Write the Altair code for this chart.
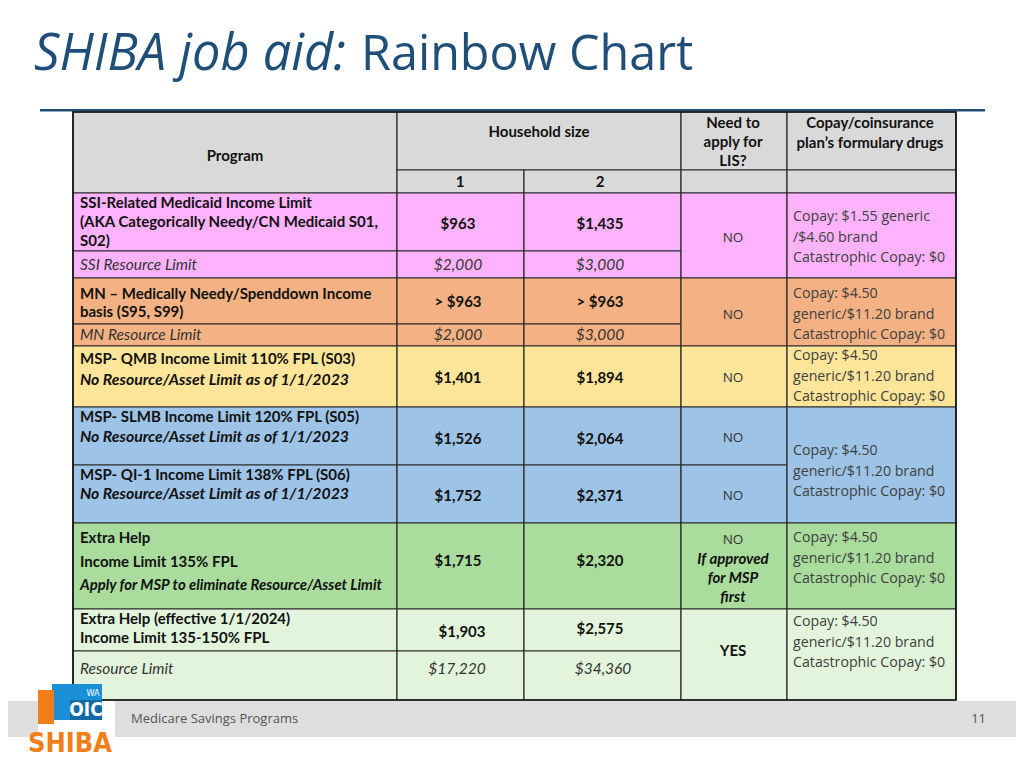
import altair as alt
import pandas as pd

# ---------------- layout arrays (page pixels) ----------------
col_edges = [73, 397, 524, 681, 787, 956]
row_edges = {"h0": 112, "h1": 170, "h2": 193,
             "p0": 193, "p1": 251, "p2": 278,
             "o1": 324, "o2": 346,
             "y2": 407,
             "b1": 465, "b2": 523,
             "g2": 609,
             "l1": 651, "l2": 700}

band_colors = {"head": "#d9d9d9", "pink": "#ffb3ff", "orange": "#f4b183",
               "yellow": "#ffe599", "blue": "#9dc3e6", "green": "#a9dc9d",
               "lgreen": "#e2f5dc"}

# cells: (col_start, col_end, top, bottom, band)
cells = [
    (0, 1, "h0", "h2", "head"), (1, 3, "h0", "h1", "head"),
    (1, 2, "h1", "h2", "head"), (2, 3, "h1", "h2", "head"),
    (3, 4, "h0", "h1", "head"), (3, 4, "h1", "h2", "head"),
    (4, 5, "h0", "h1", "head"), (4, 5, "h1", "h2", "head"),
    (0, 1, "p0", "p1", "pink"), (1, 2, "p0", "p1", "pink"), (2, 3, "p0", "p1", "pink"),
    (0, 1, "p1", "p2", "pink"), (1, 2, "p1", "p2", "pink"), (2, 3, "p1", "p2", "pink"),
    (3, 4, "p0", "p2", "pink"), (4, 5, "p0", "p2", "pink"),
    (0, 1, "p2", "o1", "orange"), (1, 2, "p2", "o1", "orange"), (2, 3, "p2", "o1", "orange"),
    (0, 1, "o1", "o2", "orange"), (1, 2, "o1", "o2", "orange"), (2, 3, "o1", "o2", "orange"),
    (3, 4, "p2", "o2", "orange"), (4, 5, "p2", "o2", "orange"),
    (0, 1, "o2", "y2", "yellow"), (1, 2, "o2", "y2", "yellow"), (2, 3, "o2", "y2", "yellow"),
    (3, 4, "o2", "y2", "yellow"), (4, 5, "o2", "y2", "yellow"),
    (0, 1, "y2", "b1", "blue"), (1, 2, "y2", "b1", "blue"), (2, 3, "y2", "b1", "blue"),
    (3, 4, "y2", "b1", "blue"),
    (0, 1, "b1", "b2", "blue"), (1, 2, "b1", "b2", "blue"), (2, 3, "b1", "b2", "blue"),
    (3, 4, "b1", "b2", "blue"), (4, 5, "y2", "b2", "blue"),
    (0, 1, "b2", "g2", "green"), (1, 2, "b2", "g2", "green"), (2, 3, "b2", "g2", "green"),
    (3, 4, "b2", "g2", "green"), (4, 5, "b2", "g2", "green"),
    (0, 1, "g2", "l1", "lgreen"), (1, 2, "g2", "l1", "lgreen"), (2, 3, "g2", "l1", "lgreen"),
    (0, 1, "l1", "l2", "lgreen"), (1, 2, "l1", "l2", "lgreen"), (2, 3, "l1", "l2", "lgreen"),
    (3, 4, "g2", "l2", "lgreen"), (4, 5, "g2", "l2", "lgreen"),
]

# text: (text, x, y, style)
headers = [
    ("Program", 235, 156, "cb"), ("Household size", 539, 132, "cb"),
    ("1", 460, 182, "cb"), ("2", 600, 182, "cb"),
    ("Need to", 733, 123, "cb"), ("apply for", 733, 142, "cb"), ("LIS?", 733, 161, "cb"),
    ("Copay/coinsurance", 870, 123, "cb"), ("plan’s formulary drugs", 870, 143, "cb"),
]
programs = [
    ("SSI-Related Medicaid Income Limit", 80, 203, "lb"),
    ("(AKA Categorically Needy/CN Medicaid S01,", 80, 222, "lb"),
    ("S02)", 80, 241, "lb"),
    ("SSI Resource Limit", 80, 265, "li"),
    ("MN – Medically Needy/Spenddown Income", 80, 294, "lb"),
    ("basis (S95, S99)", 80, 312, "lb"),
    ("MN Resource Limit", 80, 335, "li"),
    ("MSP- QMB Income Limit 110% FPL (S03)", 80, 359, "lb"),
    ("No Resource/Asset Limit as of 1/1/2023", 80, 380, "lbi"),
    ("MSP- SLMB Income Limit 120% FPL (S05)", 80, 417, "lb"),
    ("No Resource/Asset Limit as of 1/1/2023", 80, 437, "lbi"),
    ("MSP- QI-1 Income Limit 138% FPL (S06)", 80, 475, "lb"),
    ("No Resource/Asset Limit as of 1/1/2023", 80, 494, "lbi"),
    ("Extra Help", 80, 538, "lb"),
    ("Income Limit 135% FPL", 80, 562, "lb"),
    ("Apply for MSP to eliminate Resource/Asset Limit", 80, 586, "lbi2"),
    ("Extra Help (effective 1/1/2024)", 80, 619, "lb"),
    ("Income Limit 135-150% FPL", 80, 638, "lb"),
    ("Resource Limit", 80, 669, "li"),
]
household_1 = [
    ("$963", 458, 224, "cb"), ("$2,000", 458, 265, "ci"),
    ("> $963", 458, 302, "cb"), ("$2,000", 458, 335, "ci"),
    ("$1,401", 458, 378, "cb"), ("$1,526", 458, 439, "cb"),
    ("$1,752", 458, 496, "cb"), ("$1,715", 458, 561, "cb"),
    ("$1,903", 462, 632, "cb"), ("$17,220", 457, 669, "ci"),
]
household_2 = [
    ("$1,435", 600, 224, "cb"), ("$3,000", 600, 265, "ci"),
    ("> $963", 600, 302, "cb"), ("$3,000", 600, 335, "ci"),
    ("$1,894", 600, 378, "cb"), ("$2,064", 600, 439, "cb"),
    ("$2,371", 600, 496, "cb"), ("$2,320", 600, 561, "cb"),
    ("$2,575", 600, 629, "cb"), ("$34,360", 603, 669, "ci"),
]
need_lis = [
    ("NO", 733, 238, "cn"), ("NO", 733, 315, "cn"), ("NO", 733, 378, "cn"),
    ("NO", 733, 438, "cn"), ("NO", 733, 496, "cn"),
    ("NO", 733, 540, "cn"), ("If approved", 733, 559, "cbi"),
    ("for MSP", 733, 578, "cbi"), ("first", 733, 597, "cbi"),
    ("YES", 733, 651, "cb"),
]
copay_tops = [217, 294, 356, 451, 538, 622]
copay_first = ["Copay: $1.55 generic", "Copay: $4.50", "Copay: $4.50",
               "Copay: $4.50", "Copay: $4.50", "Copay: $4.50"]
copay_second = ["/$4.60 brand", "generic/$11.20 brand", "generic/$11.20 brand",
                "generic/$11.20 brand", "generic/$11.20 brand", "generic/$11.20 brand"]
copay_third = "Catastrophic Copay: $0"

copay = []
for top, a, b in zip(copay_tops, copay_first, copay_second):
    copay += [(a, 793, top, "cp"), (b, 793, top + 20.5, "cp"), (copay_third, 793, top + 41, "cp")]

# ---------------- build tables ----------------
cell_df = pd.DataFrame([
    {"x": col_edges[a], "x2": col_edges[b], "y": row_edges[t], "y2": row_edges[bt],
     "band": band}
    for a, b, t, bt, band in cells
])
text_df = pd.DataFrame(
    [dict(text=t, x=x, y=y, style=s) for t, x, y, s in
     headers + programs + household_1 + household_2 + need_lis + copay]
)

W, H = 1008, 752
xs = alt.Scale(domain=[8, 8 + W], range=[0, W], zero=False, nice=False)
ys = alt.Scale(domain=[8, 8 + H], range=[0, H], zero=False, nice=False)
X = lambda f: alt.X(f, type="quantitative", scale=xs, axis=None)
Y = lambda f: alt.Y(f, type="quantitative", scale=ys, axis=None)

deco_df = pd.DataFrame([
    {"x": 40, "x2": 985, "y": 109, "y2": 111.5, "c": "#1f4e79"},
    {"x": 0, "x2": 38, "y": 701, "y2": 737, "c": "#dedede"},
    {"x": 115, "x2": 1024, "y": 701, "y2": 737, "c": "#dedede"},
])

deco = alt.Chart(deco_df).mark_rect().encode(
    x=X("x"), x2="x2", y=Y("y"), y2="y2",
    color=alt.Color("c:N", scale=None))

cells_layer = alt.Chart(cell_df).mark_rect(stroke="#2b2b2b", strokeWidth=1.2).encode(
    x=X("x"), x2="x2", y=Y("y"), y2="y2",
    color=alt.Color("band:N", scale=alt.Scale(domain=list(band_colors.keys()),
                                              range=list(band_colors.values())),
                    legend=None))

outer = alt.Chart(pd.DataFrame([{"x": col_edges[0], "x2": col_edges[-1],
                                 "y": row_edges["h0"], "y2": row_edges["l2"]}])).mark_rect(
    fill=None, stroke="#111111", strokeWidth=1.6).encode(
    x=X("x"), x2="x2", y=Y("y"), y2="y2")

styles = {
    "cb": dict(align="center", font="Lato", fontWeight="bold", fontSize=15, color="#111111"),
    "lb": dict(align="left", font="Lato", fontWeight="bold", fontSize=15, color="#111111"),
    "lbi": dict(align="left", font="Lato", fontWeight="bold", fontStyle="italic", fontSize=15.8, color="#111111"),
    "lbi2": dict(align="left", font="Lato", fontWeight="bold", fontStyle="italic", fontSize=14.9, color="#111111"),
    "li": dict(align="left", font="Lato", fontStyle="italic", fontSize=15.5, color="#333333"),
    "ci": dict(align="center", font="Lato", fontStyle="italic", fontSize=15.5, color="#333333"),
    "cbi": dict(align="center", font="Lato", fontWeight="bold", fontStyle="italic", fontSize=15, color="#111111"),
    "cn": dict(align="center", font="Open Sans", fontSize=13.5, color="#333333"),
    "cp": dict(align="left", font="Open Sans", fontSize=14.2, color="#404040"),
}

text_layers = []
for s, kw in styles.items():
    text_layers.append(
        alt.Chart(text_df).transform_filter(alt.datum.style == s).mark_text(
            baseline="middle", **kw).encode(x=X("x"), y=Y("y"), text="text:N"))

title_df = pd.DataFrame([
    {"text": "SHIBA job aid:", "x": 34, "y": 55, "k": "it"},
    {"text": "Rainbow Chart", "x": 361, "y": 55, "k": "rg"},
])
title_it = alt.Chart(title_df).transform_filter(alt.datum.k == "it").mark_text(
    align="left", baseline="middle", font="Open Sans", fontStyle="italic",
    fontSize=50.5, color="#1f4e79").encode(x=X("x"), y=Y("y"), text="text:N")
title_rg = alt.Chart(title_df).transform_filter(alt.datum.k == "rg").mark_text(
    align="left", baseline="middle", font="Open Sans",
    fontSize=48.5, color="#1f4e79").encode(x=X("x"), y=Y("y"), text="text:N")

footer_df = pd.DataFrame([
    {"text": "Medicare Savings Programs", "x": 131, "y": 719, "a": "l"},
    {"text": "11", "x": 986, "y": 719, "a": "r"},
])
foot_l = alt.Chart(footer_df).transform_filter(alt.datum.a == "l").mark_text(
    align="left", baseline="middle", font="Open Sans", fontSize=13, color="#555555").encode(
    x=X("x"), y=Y("y"), text="text:N")
foot_r = alt.Chart(footer_df).transform_filter(alt.datum.a == "r").mark_text(
    align="right", baseline="middle", font="Open Sans", fontSize=13, color="#555555").encode(
    x=X("x"), y=Y("y"), text="text:N")

logo_df = pd.DataFrame([
    {"x": 52, "x2": 102, "y": 684, "y2": 720, "c": "#1a8fd6"},
    {"x": 70, "x2": 102, "y": 700, "y2": 720, "c": "#136aa6"},
    {"x": 38, "x2": 54, "y": 690, "y2": 724, "c": "#f07f1a"},
])
logo_rects = alt.Chart(logo_df).mark_rect().encode(
    x=X("x"), x2="x2", y=Y("y"), y2="y2", color=alt.Color("c:N", scale=None))
logo_txt_df = pd.DataFrame([
    {"text": "OIC", "x": 86, "y": 710, "k": "oic"},
    {"text": "WA", "x": 93, "y": 693, "k": "wa"},
    {"text": "SHIBA", "x": 70, "y": 744, "k": "shiba"},
])
cond = "DejaVu Sans Condensed, Liberation Sans, sans-serif"
logo_oic = alt.Chart(logo_txt_df).transform_filter(alt.datum.k == "oic").mark_text(
    align="center", baseline="middle", font=cond, fontWeight="bold",
    fontSize=19, color="white").encode(x=X("x"), y=Y("y"), text="text:N")
logo_wa = alt.Chart(logo_txt_df).transform_filter(alt.datum.k == "wa").mark_text(
    align="center", baseline="middle", font=cond,
    fontSize=9, color="white").encode(x=X("x"), y=Y("y"), text="text:N")
logo_shiba = alt.Chart(logo_txt_df).transform_filter(alt.datum.k == "shiba").mark_text(
    align="center", baseline="middle", font=cond, fontWeight="bold",
    fontSize=27, color="#f07f1a").encode(x=X("x"), y=Y("y"), text="text:N")

chart = alt.layer(
    deco, cells_layer, outer, *text_layers, title_it, title_rg, foot_l, foot_r,
    logo_rects, logo_oic, logo_wa, logo_shiba
).properties(width=W, height=H, padding=0,
             autosize=alt.AutoSizeParams(type="none")
).configure(background="white", view=alt.ViewConfig(stroke=None))

chart.save("out.html", embed_options={"renderer": "svg", "actions": False})
